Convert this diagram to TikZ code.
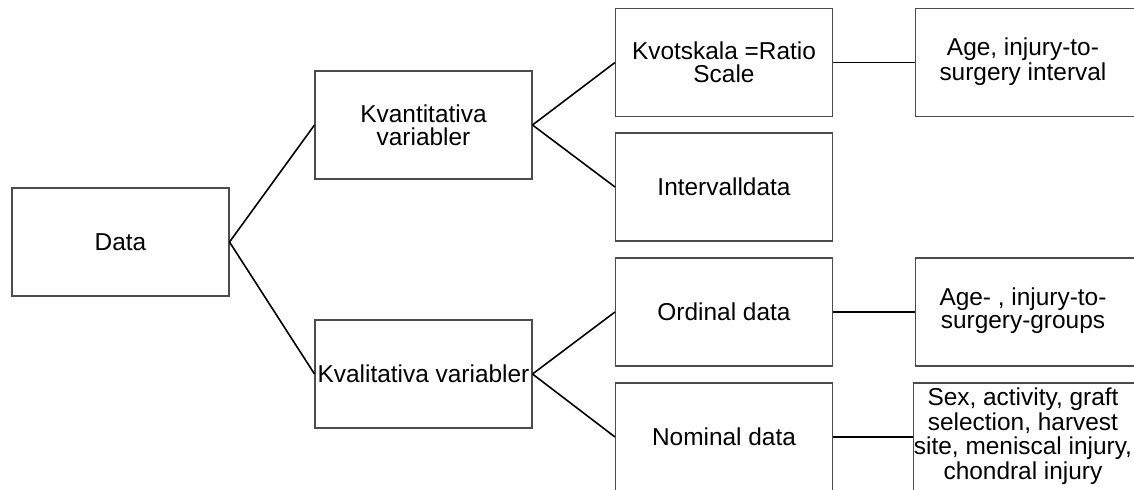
\documentclass[tikz,border=0pt]{standalone}
\usepackage{fontspec}
\setmainfont{Liberation Sans}
\newcommand{\rtext}[1]{\begin{tabular}{@{}c@{}}#1\end{tabular}\hspace*{8pt}}

\begin{document}
\begin{tikzpicture}[x=0.02cm, y=-0.02cm,
    box/.style={draw=black!70, line width=0.6pt, minimum width=4.34cm, minimum height=2.16cm,
                align=center, inner sep=0pt, font=\fontsize{13.9}{13.2}\selectfont},
    widebox/.style={box, minimum width=4.6cm},
    link/.style={line width=0.9pt}]
    \useasboundingbox (0,0) rectangle (1134,490);
    \clip (0,0) rectangle (1134,490);

    % Define boxes
    \node[box] (data) at (120.5,242) {Data};
    \node[box] (kvant) at (423.5,125) {Kvantitativa\\variabler};
    \node[box] (kval) at (423.5,374) {Kvalitativa variabler};
    \node[box] (kvot) at (724,62.5) {Kvotskala =Ratio\\Scale};
    \node[box] (interval) at (724,187) {Intervalldata};
    \node[box] (ordinal) at (724,312) {Ordinal data};
    \node[box] (nominal) at (724,437) {Nominal data};
    \node[widebox] (age) at (1030,62.5) {\rtext{Age, injury-to-\\surgery interval}};
    \node[widebox] (agegrp) at (1030,312) {\rtext{Age- , injury-to-\\surgery-groups}};
    \node[widebox] (sex) at (1030,437) {\rtext{Sex, activity, graft\\selection, harvest\\site, meniscal injury,\\chondral injury}};

    % Draw links
    \foreach \a/\b in {data/kvant, data/kval, kvant/kvot, kvant/interval, kval/ordinal, kval/nominal,
                       kvot/age, ordinal/agegrp, nominal/sex} {
        \draw[link] (\a.east) -- (\b.west);
    }
\end{tikzpicture}
\end{document}
